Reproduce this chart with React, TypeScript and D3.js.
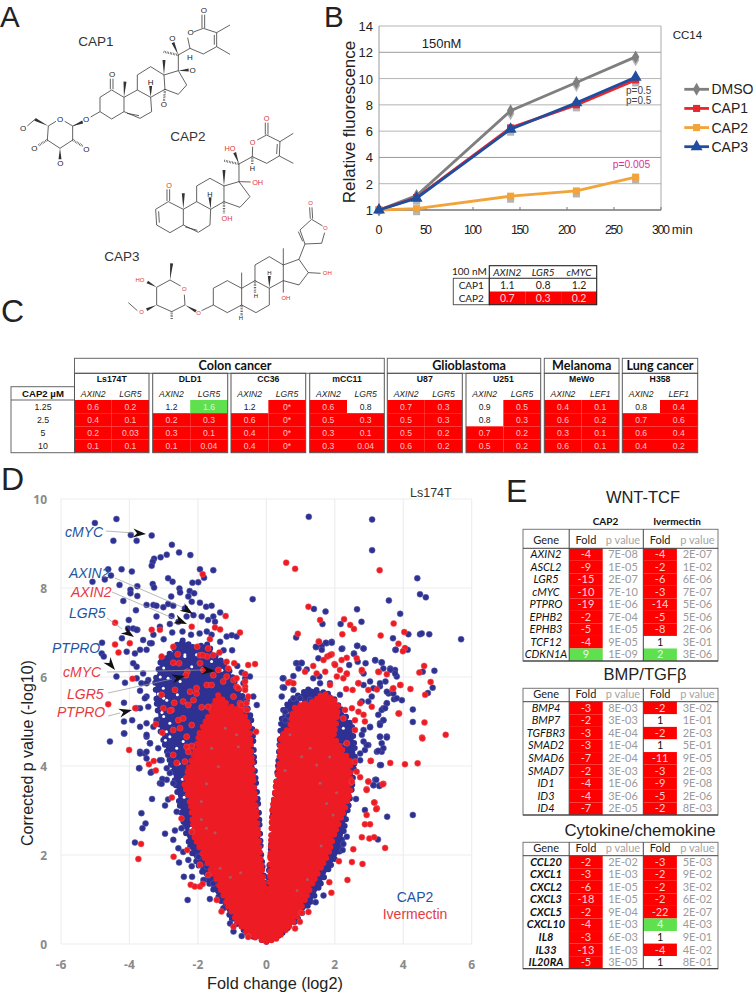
import * as d3 from "d3";
import React from "react";

type Pt = [number, number];

const SANS = "'Liberation Sans', Arial, sans-serif";
const CALIBRI = "Lato, 'Open Sans', sans-serif";
const RED = "#ff0000";
const GREEN = "#5fe04f";
const BLUE_DOT = "#2e3192";
const RED_DOT = "#ed1c24";
const LABEL_BLUE = "#1f55a0";
const LABEL_RED = "#e63a40";

// ---- panel A: skeleton formulas, drawn in a 3x grid ----
const cap1Bonds: Pt[][] = [
  [[300, 292], [335, 270], [372, 292], [372, 335], [335, 357], [300, 335], [300, 292]],
  [[372, 292], [412, 270], [452, 292], [455, 335], [420, 355], [372, 335]],
  [[412, 270], [412, 225], [452, 200], [492, 225], [495, 268], [452, 292]],
  [[492, 225], [535, 212], [560, 255], [535, 283], [495, 268]],
  [[381, 340], [417, 347]],
  [[331, 268], [331, 236]], [[339, 268], [339, 236]],
  [[535, 212], [535, 165], [570, 145], [563, 113]],
  [[581, 96], [610, 85], [650, 98], [650, 140], [610, 162], [570, 145]],
  [[606, 84], [606, 44]], [[614, 84], [614, 44]],
  [[650, 98], [690, 75]], [[650, 140], [690, 163]], [[643, 105], [643, 134]],
  [[300, 335], [272, 351]], [[248, 366], [218, 378]],
  [[218, 378], [194, 364]], [[168, 364], [145, 378], [142, 420], [180, 445], [218, 420], [218, 378]],
  [[105, 358], [82, 378]],
];
const cap1Wedges: [Pt, Pt][] = [
  [[372, 292], [375, 245]], [[492, 225], [492, 180]], [[535, 165], [519, 128]],
  [[535, 212], [566, 210]], [[452, 292], [452, 258]], [[218, 378], [248, 366]],
  [[145, 378], [105, 358]], [[180, 445], [180, 478]],
];
const cap1Hashes: [Pt, Pt][] = [
  [[535, 165], [490, 155]], [[495, 268], [492, 303]], [[142, 420], [114, 437]], [[218, 420], [248, 438]],
];
const cap1Atoms: [number, number, string][] = [
  [336, 224, "O"], [612, 32, "O"], [572, 98, "O"], [517, 117, "O"], [578, 211, "O"], [492, 315, "O"],
  [570, 174, "H"], [452, 248, "H"], [258, 358, "O"], [180, 358, "O"], [69, 387, "O"], [103, 447, "O"],
  [181, 490, "O"], [259, 448, "O"],
];

const cap2Bonds: Pt[][] = [
  [[467, 628], [505, 605], [550, 628], [550, 675], [510, 698], [470, 675], [467, 628]],
  [[476, 634], [478, 668]],
  [[550, 628], [590, 605], [632, 628], [630, 675], [595, 697], [550, 675]],
  [[556, 681], [592, 691]],
  [[590, 605], [590, 558], [630, 535], [672, 558], [672, 605], [632, 628]],
  [[672, 558], [717, 545], [750, 590], [720, 622], [672, 605]],
  [[501, 603], [501, 568]], [[509, 603], [509, 568]],
  [[717, 545], [752, 546]],
  [[717, 545], [717, 492], [757, 470], [758, 440]],
  [[772, 420], [800, 405], [840, 425], [838, 468], [800, 490], [757, 470]],
  [[796, 404], [796, 368]], [[804, 404], [804, 368]],
  [[840, 425], [880, 400]], [[838, 468], [880, 490]], [[832, 432], [830, 462]],
];
const cap2Wedges: [Pt, Pt][] = [
  [[550, 628], [550, 580]], [[672, 558], [672, 510]], [[632, 628], [630, 592]], [[717, 492], [704, 458]],
];
const cap2Hashes: [Pt, Pt][] = [
  [[672, 605], [672, 640]], [[717, 492], [672, 482]], [[757, 470], [757, 492]],
];
const cap2RedAtoms: [number, number, string][] = [
  [507, 557, "O"], [758, 427, "O"], [800, 355, "O"], [690, 445, "HO"], [773, 547, "OH"], [681, 656, "OH"],
];
const cap2Atoms: [number, number, string][] = [[630, 583, "H"], [757, 505, "H"]];

const cap3Bonds: Pt[][] = [
  [[470, 862], [510, 840], [542, 858]],
  [[553, 884], [555, 915], [515, 935], [470, 915], [470, 862]],
  [[605, 932], [640, 915]],
  [[640, 915], [640, 865], [682, 842], [725, 865], [725, 915], [682, 938], [640, 915]],
  [[725, 865], [765, 842], [808, 865], [808, 915], [768, 938], [725, 915]],
  [[765, 842], [765, 795], [808, 770], [850, 795], [850, 842], [808, 865]],
  [[850, 795], [897, 778], [925, 818], [897, 855], [850, 842]],
  [[725, 865], [725, 818]], [[850, 795], [850, 745]],
  [[897, 778], [915, 732]],
  [[915, 732], [900, 690], [935, 658], [968, 678]],
  [[974, 698], [965, 730], [915, 732]],
  [[908, 724], [895, 695]],
  [[931, 656], [929, 622]], [[938, 656], [936, 622]],
  [[925, 818], [962, 820]], [[850, 842], [850, 878]],
  [[412, 932], [385, 908]],
];
const cap3Wedges: [Pt, Pt][] = [
  [[510, 840], [515, 790]], [[470, 862], [442, 846]], [[470, 915], [440, 929]], [[555, 915], [588, 934]],
  [[808, 865], [808, 828]],
];
const cap3Hashes: [Pt, Pt][] = [[[765, 842], [765, 878]], [[725, 915], [725, 948]], [[515, 935], [515, 958]]];
const cap3RedAtoms: [number, number, string][] = [
  [553, 866, "O"], [596, 940, "O"], [425, 937, "O"], [420, 840, "HO"], [932, 609, "O"], [976, 684, "O"],
  [982, 820, "OH"], [858, 893, "OH"],
];
const cap3Atoms: [number, number, string][] = [[768, 889, "H"], [808, 820, "H"], [723, 955, "H"]];

// ---- panel B ----
const timeMinutes = [0, 40, 140, 210, 273];
const dmsoValues = [0, 1.1, 7.55, 9.7, 11.65];
const cap1Values = [0, 0.95, 6.25, 8.0, 9.9];
const cap2Values = [0, 0.1, 1.05, 1.45, 2.5];
const cap3Values = [0, 0.9, 6.15, 8.15, 10.1];
const fluorTicks = [0, 2, 4, 6, 8, 10, 12, 14];
const minuteTicks = [0, 50, 100, 150, 200, 250, 300];

const miniGenes = ["AXIN2", "LGR5", "cMYC"];
const miniCap1 = [1.1, 0.8, 1.2];
const miniCap2 = [0.7, 0.3, 0.2];

// ---- panel C ----
const doseLabels = ["1.25", "2.5", "5", "10"];
const cancerGroups = ["Colon cancer", "Glioblastoma", "Melanoma", "Lung cancer"];
const cellLines = ["Ls174T", "DLD1", "CC36", "mCC11", "U87", "U251", "MeWo", "H358"];
const cellCancer = [0, 0, 0, 0, 1, 1, 2, 3];
const secondGene = ["LGR5", "LGR5", "LGR5", "LGR5", "LGR5", "LGR5", "LEF1", "LEF1"];
const axin2Rows = [
  ["0.6", "0.4", "0.2", "0.1"],
  ["1.2", "0.2", "0.3", "0.1"],
  ["1.2", "0.6", "0.4", "0.4"],
  ["0.6", "0.5", "0.3", "0.3"],
  ["0.7", "0.5", "0.5", "0.6"],
  ["0.9", "0.8", "0.7", "0.5"],
  ["0.4", "0.6", "0.3", "0.6"],
  ["0.8", "0.7", "0.6", "0.4"],
];
const secondRows = [
  ["0.2", "0.1", "0.03", "0.1"],
  ["1.6", "0.3", "0.1", "0.04"],
  ["0*", "0*", "0*", "0*"],
  ["0.8", "0.3", "0.1", "0.04"],
  ["0.3", "0.3", "0.2", "0.2"],
  ["0.5", "0.3", "0.2", "0.2"],
  ["0.1", "0.2", "0.1", "0.1"],
  ["0.4", "0.6", "0.4", "0.2"],
];
const cellLeft = [74.5, 152.7, 231, 309.7, 387.3, 466, 544.3, 622.3];
const cellRight = [149, 227.7, 305.7, 384.3, 462.3, 540.7, 619, 697.7];

// ---- panel D: dense cloud outlines, then individually read dots ----
const redCloud: Pt[] = [
  [0, 0.05], [-0.5, 0.2], [-0.85, 0.5], [-1.15, 0.9], [-1.45, 1.44], [-1.85, 2], [-2.1, 2.4],
  [-2.2, 3.1], [-2.4, 3.6], [-2.25, 4.0], [-2.05, 4.4], [-1.95, 4.75], [-1.6, 5.25], [-1.42, 5.6], [-1.1, 5.35],
  [-0.7, 5.25], [-0.5, 4.9], [-0.42, 4.1], [-0.3, 3], [-0.18, 2], [-0.08, 1.4], [0, 1.05], [0.1, 1.4], [0.12, 2],
  [0.17, 3], [0.27, 3.5], [0.37, 4], [0.42, 4.66], [0.69, 4.88], [0.8, 5.3], [1.1, 5.4], [1.4, 5.45], [1.67, 5.65],
  [2.1, 5.4], [2.05, 5.0], [1.96, 4.66], [2.45, 4.1], [2.45, 3.4], [2.3, 3.05], [2.0, 2.5], [1.8, 2],
  [1.4, 1.44], [1.13, 1], [0.85, 0.55], [0.55, 0.3], [0.3, 0.12],
];
const blueCloud: Pt[] = [
  [0, 0.05], [-0.5, 0.2], [-1.0, 0.55], [-1.35, 1.0], [-1.75, 1.45], [-2.15, 2], [-2.35, 2.5], [-2.5, 3], [-2.65, 3.6],
  [-2.85, 4.2], [-3.1, 4.8], [-3.2, 5.4], [-3.25, 5.9], [-3.05, 6.45], [-2.75, 6.55], [-2.5, 6.85], [-2.1, 6.65],
  [-1.75, 6.75], [-1.45, 6.45], [-1.15, 6.25], [-0.9, 5.85], [-0.65, 5.5], [-0.45, 5.1], [-0.38, 4.6], [-0.35, 4], [-0.22, 3], [-0.15, 2], [0, 1.05],
  [0.12, 2], [0.2, 3], [0.34, 4], [0.42, 4.9], [0.5, 5.3], [0.85, 5.55], [1.3, 5.75], [1.9, 5.6], [2.25, 5.2], [2.5, 4.9],
  [2.6, 4.3], [2.5, 3.5], [2.35, 2.9], [2.15, 2.1], [1.75, 1.6], [1.35, 1.0], [0.9, 0.55], [0.4, 0.2],
];
// specks where the left blue lobe is not filled
const blueCloudGaps: Pt[] = [
  [-2.62, 6.85], [-2.38, 6.5], [-3.0, 6.2], [-3.01, 5.75], [-3.1, 6.0], [-2.87, 5.97], [-3.16, 5.62], [-3.0, 5.52],
  [-2.91, 5.48], [-3.0, 5.11], [-2.92, 4.77], [-2.82, 4.66], [-2.95, 4.58], [-2.38, 6.46], [-2.18, 6.23], [-2.52, 5.9],
  [-2.82, 4.96], [-2.43, 4.55], [-2.04, 6.5], [-1.6, 6.35], [-1.3, 6.15], [-2.7, 6.3], [-3.05, 5.2], [-2.6, 5.6],
  [-2.4, 3.3], [-2.45, 3.7], [-2.55, 4.05], [-2.62, 4.4], [-2.2, 2.6], [2.35, 3.6], [2.3, 4.5], [2.25, 4.85], [1.0, 5.45], [0.6, 5.2],
];
const blueDots: Pt[] = [
  [-5.01, 9.46], [-4.38, 9.55], [-4.47, 9.06], [-3.96, 9.19], [-3.79, 9.06], [-3.35, 9.18], [-2.76, 8.97],
  [-2.55, 8.8], [-2.22, 8.74], [-2.91, 8.75], [-3.09, 8.69], [-3.28, 8.66], [-3.32, 8.59], [-3.35, 8.5],
  [-1.94, 8.42], [-1.55, 8.4], [-1.82, 8.23], [-1.99, 8.13], [-2.16, 8.12], [-2.87, 8.22], [-2.74, 8.14],
  [-4.23, 8.42], [-3.93, 8.37], [-4.62, 8.42], [-4.72, 8.19], [-5.08, 8.14], [-4.54, 8.28], [-4.29, 8.07],
  [-3.97, 7.96], [-3.77, 8.04], [-3.97, 7.88], [-3.77, 7.82], [-4.18, 7.71], [-3.81, 7.5], [-3.32, 8.09],
  [-3.28, 8.01], [-2.54, 7.99], [-2.52, 7.9], [-2.24, 7.93], [-2.11, 7.88], [-2.28, 7.81], [-2.78, 7.81],
  [-0.4, 7.75], [-2.18, 7.69], [-1.94, 7.67], [-1.76, 7.58], [-1.6, 7.6], [-3.5, 7.62], [-3.3, 7.62],
  [-3.21, 7.6], [-3.01, 7.57], [-2.87, 7.64], [-2.72, 7.6], [-4.02, 7.28], [-4.04, 7.09], [-3.77, 7.06],
  [-4.8, 6.77], [-4.81, 6.53], [-4.75, 6.46], [-4.22, 6.87], [-4.08, 6.57], [-4.38, 6.01], [-4.13, 5.87],
  [-4.16, 5.42], [-4.16, 5.0], [-3.92, 5.03], [-4.16, 4.73], [-3.69, 5.3],
  [-3.21, 7.36], [-3.11, 7.13], [-2.77, 7.37], [-2.82, 7.19], [-2.57, 7.24], [-2.38, 7.54], [-2.33, 7.36],
  [-2.13, 7.39], [-1.89, 7.36], [-1.7, 7.28], [-1.55, 7.36], [-1.35, 7.45], [-1.5, 7.24], [-1.16, 6.91],
  [-1.01, 6.94], [-0.87, 6.91], [-1.35, 6.79], [-1.74, 7.02], [-3.5, 6.61], [-3.4, 6.76], [-3.6, 6.83],
  [-3.79, 6.23], [-3.6, 6.08], [-3.45, 5.93], [-3.69, 5.69], [-3.65, 5.86], [-3.5, 5.56], [-3.45, 5.33],
  [-3.21, 5.03], [-3.3, 4.88], [-0.67, 5.86], [-0.62, 5.97], [-0.48, 6.01], [-0.38, 5.56], [-0.28, 5.37], [-0.57, 5.48],
  [-3.89, 7.09], [-3.79, 7.06], [-3.35, 6.76], [-3.69, 6.61], [-3.84, 6.53], [-3.89, 6.31], [-3.79, 5.97], [-3.5, 5.86],
  [-3.55, 5.52], [-3.79, 5.3], [-3.69, 4.88], [-3.5, 4.96], [-3.5, 4.66], [-3.4, 4.51], [-3.69, 4.32], [-3.55, 4.28],
  [-3.5, 4.17], [-3.71, 3.95], [-3.35, 3.87], [-3.06, 4.13], [-2.87, 4.25], [-3.16, 4.4], [-3.11, 3.61], [-2.91, 3.69],
  [-2.72, 3.61], [-2.82, 3.84], [-3.3, 6.95], [-3.0, 6.85], [-2.75, 7.0], [-2.45, 7.02], [-2.2, 6.95], [-1.95, 6.98], [-1.6, 6.95],
  [-1.25, 6.6], [-1.0, 6.6], [-0.85, 6.25], [-0.72, 6.1],
  [1.24, 9.6], [3.09, 9.54], [3.09, 8.85], [4.41, 8.22], [4.49, 7.86], [4.66, 7.79], [3.58, 7.72], [1.39, 7.53],
  [1.73, 7.47], [2.65, 7.52], [3.91, 7.42], [2.78, 7.24], [1.64, 7.19], [2.17, 7.19], [3.7, 6.87], [4.15, 6.96],
  [4.49, 6.96], [4.54, 6.98], [4.76, 6.96], [5.69, 6.85], [3.77, 6.61], [4.13, 6.61], [0.87, 6.89], [1.91, 6.79],
  [1.76, 6.76], [1.62, 6.7], [1.45, 6.67], [2.22, 6.64], [2.65, 6.7], [2.84, 6.64], [2.56, 6.53], [1.52, 6.42],
  [4.91, 6.14], [4.57, 6.12], [4.86, 5.76], [4.72, 5.64], [3.96, 5.48], [4.28, 5.27], [4.28, 4.99], [3.32, 4.66],
  [3.52, 4.66], [3.18, 6.37], [3.37, 6.32], [3.62, 6.19], [3.76, 6.16], [3.81, 6.01], [3.48, 5.9], [3.32, 5.79],
  [3.13, 5.75], [3.57, 5.63], [3.73, 5.5], [3.52, 5.41], [3.42, 5.3], [3.42, 5.03], [3.32, 4.96], [3.03, 4.88],
  [1.03, 6.32], [0.87, 6.31], [0.5, 5.97], [0.48, 5.77],
  [1.45, 6.68], [1.62, 6.61], [1.91, 6.77], [1.74, 6.77], [2.66, 6.7], [2.84, 6.64], [3.78, 6.61], [0.89, 6.31], [1.03, 6.31],
  [1.18, 6.17], [0.94, 6.19], [0.79, 6.02], [0.48, 5.97], [0.79, 5.71], [0.52, 5.76], [0.45, 5.56], [1.37, 5.97], [1.55, 6.01],
  [1.86, 5.86], [2.2, 6.63], [2.42, 6.27], [2.56, 6.52], [2.67, 6.34], [2.9, 6.31], [3.18, 6.38], [3.37, 6.33], [2.84, 6.08],
  [3.03, 5.9], [3.42, 6.19], [3.62, 6.16], [3.76, 6.08], [3.32, 5.86], [3.52, 5.67], [3.71, 5.63], [3.81, 5.52], [3.52, 5.41],
  [3.08, 5.56], [2.98, 5.45], [2.79, 5.45], [3.37, 5.26], [3.47, 5.3], [3.27, 5.15], [3.42, 5.03], [3.32, 4.92], [3.03, 4.87],
  [2.84, 4.81], [2.79, 4.7], [3.32, 4.66], [3.52, 4.66], [3.37, 4.51], [3.23, 4.32], [3.37, 4.32], [2.98, 4.47], [2.88, 4.36],
  [2.74, 4.28], [3.32, 4.02], [3.18, 3.69], [3.13, 3.57], [3.32, 3.57], [2.74, 4.13], [2.84, 5.82], [2.15, 5.6], [0.79, 5.52],
  [0.98, 5.52], [1.28, 5.48], [1.57, 5.86], [0.55, 5.22], [0.64, 5.11], [0.55, 5.03], [0.45, 4.28], [0.5, 4.32],
  [-4.57, 4.55], [-4.15, 4.73], [-3.72, 3.95], [-3.38, 3.85], [-3.04, 3.71], [-3.06, 3.6], [-3.34, 3.26],
  [-2.87, 3.25], [-2.96, 3.11], [-3.65, 2.94], [-3.53, 2.71], [-3.62, 2.6], [-2.96, 2.48], [-2.72, 2.34],
  [-3.84, 2.28], [-2.67, 2.55], [-2.48, 2.6], [-2.62, 2.97], [-2.57, 2.15], [-2.43, 2.07], [-2.55, 1.83],
  [-2.28, 1.89], [-2.18, 1.75], [-2.41, 1.51], [-2.17, 1.51], [-2.3, 0.99], [-1.65, 1.01], [-1.06, 0.46],
  [-0.72, 0.18], [-0.96, 0.28], [-1.26, 0.8], [-1.55, 1.36], [-1.84, 1.44], [-1.99, 1.96], [-1.74, 1.74],
  [-3.69, 4.28], [-3.5, 4.32], [-3.5, 4.7], [-3.4, 4.51], [-3.11, 4.13], [-2.91, 3.95],
  [3.52, 4.64], [4.28, 2.9], [3.53, 2.86], [3.26, 2.35], [3.35, 4.02], [3.21, 3.69], [3.13, 3.57], [3.3, 3.55],
  [3.42, 4.4], [3.27, 4.34], [2.93, 4.47], [2.84, 4.55], [2.62, 3.26], [2.88, 3.01], [2.35, 2.41], [2.25, 2.25],
  [2.23, 2.11], [1.67, 1.09], [1.44, 0.94],
];
const redDots: Pt[] = [
  [-1.86, 8.31], [-4.42, 7.22], [-4.42, 6.73], [-3.99, 6.76], [-4.32, 6.55], [-3.91, 5.96], [-4.62, 5.39],
  [-3.83, 5.3], [-3.35, 7.06], [-3.11, 7.06], [-2.18, 7.13], [-1.19, 7.37], [-1.5, 7.11], [-1.35, 7.07],
  [-0.77, 7.0], [-1.65, 6.85], [-0.53, 6.27], [-0.33, 6.29], [-0.94, 6.31],
  [-2.72, 6.32], [-2.55, 6.31], [-2.31, 6.12], [-2.35, 6.04], [-1.94, 6.31], [-1.73, 6.46], [-1.55, 6.49],
  [-1.37, 6.55], [-1.16, 6.34], [-1.4, 6.16], [-1.55, 6.04], [-1.84, 6.16], [-2.02, 6.68], [-1.94, 6.49],
  [-2.67, 5.71], [-3.06, 5.6], [-3.01, 5.3], [-2.77, 5.26], [-2.57, 5.03], [-2.43, 5.07], [-2.04, 5.63],
  [-2.23, 5.67], [-2.72, 6.68], [-3.06, 6.46], [-1.16, 6.01], [-0.96, 5.93], [-0.87, 5.78], [-0.62, 6.07],
  [-0.62, 5.78], [-0.96, 5.56], [-0.77, 5.41], [-0.53, 5.56], [-0.57, 5.26], [-0.3, 4.77],
  [-2.59, 6.51], [-1.7, 6.64], [-1.86, 6.49], [-1.11, 6.19], [-2.69, 5.42], [-2.04, 5.75], [-1.74, 5.82], [-2.43, 5.45],
  [-2.28, 5.37], [-2.13, 5.48], [-2.82, 5.24], [-1.89, 5.32], [-1.7, 5.33], [-3.23, 4.94], [-3.04, 4.75], [-2.72, 4.81],
  [-2.52, 4.85], [-2.18, 4.92], [-2.33, 4.66], [-1.6, 5.82], [-1.26, 5.9], [-0.87, 5.97], [-0.82, 5.75], [-0.62, 5.9],
  [-0.62, 5.71], [-0.72, 5.37], [-0.58, 5.41], [-2.72, 4.25], [-2.38, 4.1], [-2.62, 4.07], [-3.23, 3.9], [-2.33, 4.43],
  [-2.18, 4.45], [-2.28, 4.32],
  [0.58, 8.57], [0.84, 8.43], [3.31, 8.4], [1.23, 7.58], [1.57, 7.28], [2.27, 7.3], [2.45, 7.17], [2.56, 7.08],
  [0.92, 6.97], [2.22, 6.96], [1.53, 6.8], [3.72, 7.2], [3.34, 6.93], [4.03, 7.01], [3.86, 6.75], [4.05, 6.65],
  [3.99, 6.58], [4.61, 6.25], [4.47, 6.1], [4.8, 5.89], [4.64, 5.6], [4.21, 5.73], [3.92, 5.82], [3.69, 5.73],
  [3.52, 6.06], [3.29, 6.11], [3.88, 5.18], [4.62, 4.98], [5.24, 4.7], [4.55, 4.64],
  [1.78, 6.46], [1.91, 6.51], [2.35, 6.43], [2.2, 6.38], [2.64, 6.42], [1.67, 6.38], [1.99, 6.29], [2.15, 6.16],
  [2.35, 6.07], [2.69, 5.86], [2.79, 6.13], [2.33, 5.73], [2.52, 5.71], [2.98, 5.71], [0.69, 5.89], [0.79, 5.86],
  [1.54, 6.79], [1.86, 6.49], [1.37, 6.25], [1.13, 6.12], [1.47, 6.08], [1.72, 6.12], [2.01, 6.27], [2.79, 6.16],
  [3.27, 6.12], [3.91, 5.82], [3.71, 5.75], [3.23, 5.72], [2.69, 5.86], [1.86, 5.82], [0.64, 5.87], [2.06, 6.01],
  [2.25, 5.97], [2.35, 6.08], [2.74, 5.41], [3.08, 5.33], [2.5, 5.3], [2.3, 5.26], [2.69, 5.22], [2.84, 5.15], [2.88, 5.0],
  [2.59, 5.03], [2.25, 5.07], [3.86, 5.18], [2.59, 4.81], [2.35, 4.51], [3.05, 4.12], [2.59, 4.1], [2.64, 3.87], [2.98, 3.65],
  [2.74, 3.75], [2.93, 3.48], [2.5, 3.65], [3.42, 3.6], [3.16, 3.18], [3.23, 3.05],
  [4.56, 4.62], [3.62, 4.07], [4.05, 4.04], [4.42, 4.06], [3.05, 4.11], [3.4, 3.59], [2.98, 3.65], [2.93, 3.46],
  [3.15, 3.18], [3.21, 3.03], [2.93, 2.9], [2.88, 2.69], [3.03, 2.69], [2.79, 2.4], [3.01, 2.37], [3.15, 2.4],
  [3.47, 2.16], [2.54, 2.13], [2.12, 1.86], [2.5, 1.84], [2.81, 1.8], [2.37, 1.44], [1.84, 1.39], [1.9, 1.15],
  [1.23, 0.72], [1.03, 0.7], [0.98, 0.5], [0.84, 0.35],
  [-4.01, 4.36], [-3.43, 4.04], [-3.29, 4.11], [-2.76, 3.29], [-3.66, 2.25], [-3.74, 1.91], [-2.71, 1.96],
  [-2.48, 2.82], [-2.21, 1.33], [-2.09, 1.29], [-1.94, 1.29], [-1.86, 1.35], [-1.94, 1.78], [-1.7, 1.55],
  [-1.45, 0.99], [-1.31, 0.73], [-0.96, 0.39], [-0.53, 0.16], [-2.31, 2.11], [-2.18, 2.52],
];
// greyish dots showing through the red core
const coreFlecks: Pt[] = [
  [-1.4, 3.99], [-0.82, 4.43], [-0.87, 4.7], [1.03, 4.21], [1.47, 4.02], [1.76, 3.16], [1.57, 3.61], [1.28, 4.4], [0.69, 4.7],
  [-1.9, 3.2], [-1.75, 3.6], [-1.6, 4.4], [-1.2, 4.85], [-1.9, 2.8], [-1.5, 2.5], [2.05, 3.4], [1.95, 2.9], [1.6, 2.2],
  [-1.75, 2.6], [-0.75, 1.6], [0.9, 1.2], [1.2, 1.45], [1.85, 4.2], [0.55, 3.9], [-1.35, 1.7], [-1.05, 1.5],
];
const volcanoX = [-6, -4, -2, 0, 2, 4, 6];
const volcanoY = [0, 2, 4, 6, 8, 10];

// label, colour, text x and baseline
const volcanoLabels: [string, string, number, number][] = [
  ["cMYC", LABEL_BLUE, 65, 537],
  ["AXIN2", LABEL_BLUE, 69, 578],
  ["AXIN2", LABEL_RED, 71, 597],
  ["LGR5", LABEL_BLUE, 69, 618],
  ["PTPRO", LABEL_BLUE, 52, 653],
  ["cMYC", LABEL_RED, 63, 677],
  ["LGR5", LABEL_RED, 67, 699],
  ["PTPRO", LABEL_RED, 57, 717],
];
// leader start, arrow tail, arrow tip (pixels of the annotation layer)
const leaders: [Pt, Pt, Pt][] = [
  [[106, 531], [134, 533], [146, 534]],
  [[115, 578], [182, 607], [193, 614]],
  [[112, 592], [175, 619], [187, 624]],
  [[107, 618], [122, 629], [134, 637]],
  [[107, 660], [107, 660], [115, 670]],
  [[107, 672], [203, 670], [215, 671]],
  [[108, 693], [172, 679], [185, 676]],
  [[108, 716], [120, 713], [132, 710]],
];

// ---- panel E ----
const wntGenes = ["AXIN2", "ASCL2", "LGR5", "cMYC", "PTPRO", "EPHB2", "EPHB3", "TCF12", "CDKN1A"];
const wntCap2Fold = [-4, -9, -15, -10, -19, -2, -5, -4, 9];
const wntCap2P = ["7E-08", "1E-05", "2E-07", "7E-10", "1E-06", "7E-04", "1E-05", "9E-05", "1E-09"];
const wntIverFold = [-4, -2, -6, -3, -14, -5, -8, 1, 2];
const wntIverP = ["2E-07", "1E-02", "6E-06", "7E-07", "5E-06", "5E-06", "2E-06", "3E-01", "3E-06"];

const bmpGenes = ["BMP4", "BMP7", "TGFBR3", "SMAD2", "SMAD6", "SMAD7", "ID1", "ID3", "ID4"];
const bmpCap2Fold = [-3, -2, -3, -3, -7, -2, -4, -4, -7];
const bmpCap2P = ["8E-03", "3E-03", "4E-04", "1E-04", "2E-04", "3E-03", "1E-06", "3E-06", "2E-05"];
const bmpIverFold = [-2, 1, -2, 1, -11, -3, -9, -5, -2];
const bmpIverP = ["3E-02", "1E-01", "2E-03", "5E-01", "9E-05", "2E-03", "9E-08", "2E-06", "8E-03"];

const cytoGenes = ["CCL20", "CXCL1", "CXCL2", "CXCL3", "CXCL5", "CXCL10", "IL8", "IL33", "IL20RA"];
const cytoCap2Fold = [-2, -3, -6, -18, -2, -4, -3, -13, -5];
const cytoCap2P = ["2E-02", "1E-03", "1E-05", "1E-05", "9E-04", "1E-03", "6E-03", "1E-03", "3E-05"];
const cytoIverFold = [-3, -2, -2, -2, -22, 4, 1, -4, 1];
const cytoIverP = ["5E-03", "9E-02", "3E-02", "6E-02", "2E-07", "4E-03", "9E-01", "4E-02", "8E-01"];

const foldColor = d3.scaleThreshold<number, string>().domain([0, 1.5]).range([RED, "#ffffff", GREEN]);
const ratioColor = d3.scaleThreshold<number, string>().domain([0.75, 1.5]).range([RED, "#ffffff", GREEN]);

const linePath = d3.line<Pt>();

function Molecule({bonds, wedges, hashes, atoms, redAtoms, fontSize}: {
  bonds: Pt[][]; wedges: [Pt, Pt][]; hashes: [Pt, Pt][];
  atoms: [number, number, string][]; redAtoms?: [number, number, string][]; fontSize: number;
}) {
  const ink = "#333";
  return (
    <g>
      {bonds.map((b, i) => (
        <path key={i} d={linePath(b) || ""} fill="none" stroke={ink} strokeWidth={2.3} strokeLinejoin="round" />
      ))}
      {wedges.map(([a, b], i) => {
        const dx = b[0] - a[0], dy = b[1] - a[1], len = Math.hypot(dx, dy);
        const nx = (-dy / len) * 4.5, ny = (dx / len) * 4.5;
        return <polygon key={i} points={`${a[0]},${a[1]} ${b[0] + nx},${b[1] + ny} ${b[0] - nx},${b[1] - ny}`} fill={ink} />;
      })}
      {hashes.map(([a, b], i) => (
        <line key={i} x1={a[0]} y1={a[1]} x2={b[0]} y2={b[1]} stroke={ink} strokeWidth={7} strokeDasharray="1.8 3" />
      ))}
      {atoms.map(([x, y, s], i) => (
        <text key={i} x={x} y={y} fontSize={fontSize} textAnchor="middle" dominantBaseline="central" fill="#222" fontFamily={SANS}>{s}</text>
      ))}
      {(redAtoms || []).map(([x, y, s], i) => (
        <text key={i} x={x} y={y} fontSize={fontSize} textAnchor="middle" dominantBaseline="central" fill="#e0333a" fontFamily={SANS}>{s}</text>
      ))}
    </g>
  );
}

function PanelA() {
  return (
    <g>
      <text x={0} y={26.5} fontSize={29.5} fontFamily={SANS} fill="#222">A</text>
      <g fontFamily={SANS} fontSize={13.5} fill="#333" textAnchor="middle">
        <text x={96} y={46}>CAP1</text>
        <text x={188} y={140.7}>CAP2</text>
        <text x={122} y={261}>CAP3</text>
      </g>
      <g transform="scale(0.3333)">
        <Molecule bonds={cap1Bonds} wedges={cap1Wedges} hashes={cap1Hashes} atoms={cap1Atoms} fontSize={24} />
        <Molecule bonds={cap2Bonds} wedges={cap2Wedges} hashes={cap2Hashes} atoms={cap2Atoms} redAtoms={cap2RedAtoms} fontSize={22} />
        <Molecule bonds={cap3Bonds} wedges={cap3Wedges} hashes={cap3Hashes} atoms={cap3Atoms} redAtoms={cap3RedAtoms} fontSize={18} />
      </g>
    </g>
  );
}

function Marker({kind, x, y, color}: {kind: string; x: number; y: number; color: string}) {
  const type = kind === "diamond" ? d3.symbolDiamond : kind === "square" ? d3.symbolSquare : d3.symbolTriangle;
  const size = kind === "diamond" ? 48 : kind === "square" ? 50 : 62;
  return <path d={d3.symbol().type(type).size(size)() || ""} transform={`translate(${x},${y})`} fill={color} />;
}

function PanelB() {
  const x = d3.scaleLinear().domain([0, 300]).range([379, 661]);
  const y = d3.scaleLinear().domain([0, 14]).range([210, 26]);
  const line = d3.line<number>().x((_, i) => x(timeMinutes[i])).y(v => y(v));
  const series = [
    {name: "DMSO", values: dmsoValues, color: "#7f7f7f", kind: "diamond"},
    {name: "CAP1", values: cap1Values, color: "#e8262d", kind: "square"},
    {name: "CAP2", values: cap2Values, color: "#f2a33a", kind: "square"},
    {name: "CAP3", values: cap3Values, color: "#1f4e9f", kind: "triangle"},
  ];
  const legendY = d3.scalePoint<string>().domain(series.map(s => s.name)).range([89.3, 146.7]);
  const miniX = d3.scalePoint<string>().domain(miniGenes).range([507.3, 579]);
  return (
    <g fontFamily={SANS}>
      <text x={324} y={26.5} fontSize={29.5} fill="#222">B</text>
      {fluorTicks.map(t => (
        <g key={t}>
          {t > 0 && <line x1={379} x2={661} y1={y(t)} y2={y(t)} stroke={t % 4 === 2 || t === 8 ? "#b5b5b5" : "#999"} strokeWidth={1} />}
          <text x={373} y={y(t) + 5} textAnchor="end" fontSize={13} fill="#222">{t === 0 ? "1" : t}</text>
        </g>
      ))}
      <line x1={379} x2={379} y1={26} y2={210} stroke="#999" />
      <line x1={661} x2={661} y1={26} y2={210} stroke="#aaa" />
      <line x1={379} x2={661} y1={210} y2={210} stroke="#777" strokeWidth={1.6} />
      {minuteTicks.map(t => (
        <g key={t}>
          <line x1={x(t)} x2={x(t)} y1={207} y2={210} stroke="#777" />
          <text x={x(t)} y={234} textAnchor="middle" fontSize={12.5} fill="#222" textLength={t === 0 ? undefined : t < 100 ? 12 : 18}>{t}</text>
        </g>
      ))}
      <text transform="translate(355,122) rotate(-90)" textAnchor="middle" fontSize={17} fill="#222">Relative fluorescence</text>
      <text x={421.7} y={47.5} fontSize={13} fill="#222">150nM</text>
      <text x={672.7} y={39.3} fontSize={11.5} fill="#222">CC14</text>
      <text x={671.7} y={234} fontSize={13} fill="#222">min</text>
      {series.map(s => (
        <g key={s.name}>
          {s.values.map((v, i) => i > 0 && (
            <Marker key={i} kind={s.kind === "triangle" ? "square" : s.kind} x={x(timeMinutes[i])} y={y(v) + 3} color="#b4b4b4" />
          ))}
        </g>
      ))}
      {series.map(s => (
        <g key={s.name}>
          <path d={line(s.values) || ""} fill="none" stroke={s.color} strokeWidth={2.8} />
          {s.values.map((v, i) => <Marker key={i} kind={s.kind} x={x(timeMinutes[i])} y={y(v)} color={s.color} />)}
          <line x1={684.3} x2={709} y1={legendY(s.name)} y2={legendY(s.name)} stroke={s.color} strokeWidth={2.8} />
          <Marker kind={s.kind} x={696.6} y={legendY(s.name)!} color={s.color} />
          <text x={711.5} y={legendY(s.name)! + 5} fontSize={14} fill="#222">{s.name}</text>
        </g>
      ))}
      <text x={626} y={94.3} fontSize={10} fill="#444">p=0.5</text>
      <text x={626} y={104} fontSize={10} fill="#444">p=0.5</text>
      <text x={612.7} y={167.7} fontSize={10.3} fill="#e0309a">p=0.005</text>
      <g fontFamily={CALIBRI} fontSize={10} fill="#222">
        <text x={486.7} y={275} textAnchor="end">100 nM</text>
        {miniGenes.map(g => <text key={g} x={miniX(g)} y={276} textAnchor="middle" fontStyle="italic">{g}</text>)}
        <rect x={453.3} y={278.3} width={36} height={26.4} fill="none" stroke="#555" />
        <text x={471.3} y={289} textAnchor="middle">CAP1</text>
        <text x={471.3} y={302} textAnchor="middle">CAP2</text>
        {miniGenes.map((g, i) => (
          <g key={g}>
            <rect x={miniX(g)! - 17.9} y={278.3} width={35.8} height={13.2} fill={ratioColor(miniCap1[i])} />
            <rect x={miniX(g)! - 17.9} y={291.5} width={35.8} height={13.2} fill={ratioColor(miniCap2[i])} />
            <text x={miniX(g)} y={289} textAnchor="middle" fontSize={10.5}>{miniCap1[i]}</text>
            <text x={miniX(g)} y={302} textAnchor="middle" fontSize={10.5} fill="#ffd5d5">{miniCap2[i]}</text>
          </g>
        ))}
        <rect x={489.3} y={265.7} width={107.4} height={39} fill="none" stroke="#222" strokeWidth={1.1} />
        <line x1={489.3} x2={596.7} y1={278.3} y2={278.3} stroke="#222" strokeWidth={1.1} />
      </g>
    </g>
  );
}

function PanelC() {
  const rowY = d3.scaleBand<string>().domain(doseLabels).range([400, 452.7]);
  const groupExtent = cancerGroups.map((_, g) => {
    const idx = cellCancer.map((c, i) => (c === g ? i : -1)).filter(i => i >= 0);
    return [cellLeft[idx[0]], cellRight[idx[idx.length - 1]]];
  });
  const groupCentre = [235, 469, 581.7, 660];
  const rowH = rowY.bandwidth();
  return (
    <g fontFamily={SANS}>
      <text x={1} y={322} fontSize={32} fill="#222">C</text>
      <rect x={11} y={386.7} width={63.5} height={66} fill="none" stroke="#666" strokeWidth={1} />
      <line x1={11} x2={74.5} y1={400} y2={400} stroke="#666" />
      <text x={43} y={396.5} textAnchor="middle" fontSize={9.6} fontWeight="bold" fill="#111">CAP2 µM</text>
      {doseLabels.map(d => (
        <text key={d} x={43} y={rowY(d)! + rowH - 3.5} textAnchor="middle" fontSize={8.8} fill="#222">{d}</text>
      ))}
      {cancerGroups.map((g, i) => (
        <g key={g}>
          <rect x={groupExtent[i][0]} y={358.3} width={groupExtent[i][1] - groupExtent[i][0]} height={15} fill="none" stroke="#666" />
          <text x={groupCentre[i]} y={370} textAnchor="middle" fontFamily={CALIBRI} fontWeight="bold" fontSize={12.6} fill="#111">{g}</text>
        </g>
      ))}
      {cellLines.map((name, i) => {
        const left = cellLeft[i], right = cellRight[i], mid = (left + right) / 2;
        const genes = d3.scaleBand<string>().domain(["AXIN2", secondGene[i]]).range([left, right]);
        const bw = genes.bandwidth();
        const cols = [axin2Rows[i], secondRows[i]];
        return (
          <g key={name}>
            <text x={mid} y={382} textAnchor="middle" fontSize={8.7} fontWeight="bold" fill="#111">{name}</text>
            {["AXIN2", secondGene[i]].map((g, c) => (
              <g key={g}>
                <text x={genes(g)! + bw / 2} y={397} textAnchor="middle" fontSize={8.6} fontStyle="italic" fill="#222">{g}</text>
                {doseLabels.map((d, r) => {
                  const v = cols[c][r];
                  const fill = ratioColor(parseFloat(v));
                  return (
                    <g key={d}>
                      <rect x={genes(g)} y={rowY(d)} width={bw} height={rowH} fill={fill} />
                      <text x={genes(g)! + bw / 2} y={rowY(d)! + rowH - 3.5} textAnchor="middle" fontSize={8.6}
                        fill={fill === "#ffffff" ? "#222" : fill === RED ? "#ffc4c4" : "#dff5da"}>{v}</text>
                    </g>
                  );
                })}
              </g>
            ))}
            <rect x={left} y={373.3} width={right - left} height={79.4} fill="none" stroke="#555" />
          </g>
        );
      })}
    </g>
  );
}

function PanelD() {
  const x = d3.scaleLinear().domain([-6, 6]).range([61, 471.7]);
  const y = d3.scaleLinear().domain([0, 10]).range([944, 499]);
  const cloud = d3.line<Pt>().x(d => x(d[0])).y(d => y(d[1])).curve(d3.curveLinearClosed);
  return (
    <g fontFamily={SANS}>
      <text x={1} y={490} fontSize={32} fill="#222">D</text>
      {volcanoX.map(t => <line key={t} x1={x(t)} x2={x(t)} y1={y(10)} y2={y(0)} stroke="#eeeeee" strokeWidth={1.2} />)}
      {volcanoY.map(t => <line key={t} x1={x(-6)} x2={x(6)} y1={y(t)} y2={y(t)} stroke="#eeeeee" strokeWidth={1.2} />)}
      {volcanoX.map(t => (
        <text key={t} x={x(t)} y={969} textAnchor="middle" fontSize={12} fontWeight="bold" fill="#8a8a8a" fontFamily="'Open Sans', sans-serif">{t}</text>
      ))}
      {volcanoY.map(t => (
        <text key={t} x={47} y={y(t) + 4.5} textAnchor="end" fontSize={12} fontWeight="bold" fill="#8a8a8a" fontFamily="'Open Sans', sans-serif">{t}</text>
      ))}
      <path d={cloud(blueCloud) || ""} fill={BLUE_DOT} stroke={BLUE_DOT} strokeWidth={6} strokeLinecap="round" strokeDasharray="0 5 0 9 0 7" />
      {blueCloudGaps.map((d, i) => <circle key={i} cx={x(d[0])} cy={y(d[1])} r={1.5} fill="#fff" />)}
      {blueDots.map((d, i) => <circle key={i} cx={x(d[0])} cy={y(d[1])} r={3} fill={BLUE_DOT} stroke="#5d60ad" strokeWidth={0.5} />)}
      <path d={cloud(redCloud) || ""} fill={RED_DOT} stroke={RED_DOT} strokeWidth={6} strokeLinecap="round" strokeDasharray="0 5 0 7 0 6" />
      {redDots.map((d, i) => <circle key={i} cx={x(d[0])} cy={y(d[1])} r={3} fill={RED_DOT} stroke="#f0555a" strokeWidth={0.5} />)}
      {coreFlecks.map((d, i) => <circle key={i} cx={x(d[0])} cy={y(d[1])} r={1.5} fill="#a85a66" />)}
      {leaders.map(([a, b, c], i) => {
        const dx = c[0] - b[0], dy = c[1] - b[1], len = Math.hypot(dx, dy) || 1;
        const ux = dx / len, uy = dy / len;
        const head = `M${c[0]},${c[1]}L${c[0] - 13 * ux + 4.5 * uy},${c[1] - 13 * uy - 4.5 * ux}L${c[0] - 9 * ux},${c[1] - 9 * uy}L${c[0] - 13 * ux - 4.5 * uy},${c[1] - 13 * uy + 4.5 * ux}Z`;
        return (
          <g key={i}>
            <line x1={a[0]} y1={a[1]} x2={b[0]} y2={b[1]} stroke="#999" strokeWidth={0.7} />
            <path d={head} fill="#111" />
          </g>
        );
      })}
      {volcanoLabels.map(([s, c, lx, ly], i) => (
        <text key={i} x={lx} y={ly} fontSize={14} fontStyle="italic" fill={c}>{s}</text>
      ))}
      <text x={410} y={497} fontSize={12.5} fill="#333">Ls174T</text>
      <text x={415} y={902} textAnchor="middle" fontSize={14} fill={LABEL_BLUE}>CAP2</text>
      <text x={415} y={919} textAnchor="middle" fontSize={14} fill={LABEL_RED}>Ivermectin</text>
      <text x={275} y={989} textAnchor="middle" fontSize={16.3} fill="#222">Fold change (log2)</text>
      <text transform="translate(33,753) rotate(-90)" textAnchor="middle" fontSize={16} fill="#222">Corrected p value (-log10)</text>
    </g>
  );
}

function GeneTable({title, titleX, titleY, titleSize, top, headerBottom, bottom, genes, fold1, p1, fold2, p2, bold, caps}: {
  title: React.ReactNode; titleX: number; titleY: number; titleSize: number; top: number; headerBottom: number; bottom: number;
  genes: string[]; fold1: number[]; p1: string[]; fold2: number[]; p2: string[]; bold?: boolean; caps?: boolean;
}) {
  const cols = [523, 569.2, 602.7, 643.3, 676.9, 718];
  const row = d3.scaleBand<string>().domain(genes).range([headerBottom, bottom]);
  const h = row.bandwidth();
  const foldCell = (vals: number[], col: number) => genes.map((g, i) => {
    const fill = foldColor(vals[i]);
    return (
      <g key={g}>
        <rect x={cols[col]} y={row(g)} width={cols[col + 1] - cols[col]} height={h} fill={fill} />
        <text x={(cols[col] + cols[col + 1]) / 2} y={row(g)! + h - 2.6} textAnchor="middle"
          fill={fill === "#ffffff" ? "#111" : fill === RED ? "#ffd0d0" : "#e6f9e2"}>{vals[i]}</text>
      </g>
    );
  });
  const pCell = (vals: string[], col: number) => genes.map((g, i) => (
    <text key={g} x={(cols[col] + cols[col + 1]) / 2} y={row(g)! + h - 2.6} textAnchor="middle" fill="#9a9a9a">{vals[i]}</text>
  ));
  return (
    <g fontFamily={CALIBRI} fontSize={11}>
      <text x={titleX} y={titleY} textAnchor="middle" fontFamily={SANS} fontSize={titleSize} fill="#222">{title}</text>
      {caps && (
        <g fontWeight="bold" fill="#111" fontSize={10}>
          <text x={605.5} y={525} textAnchor="middle">CAP2</text>
          <text x={677} y={525} textAnchor="middle">Ivermectin</text>
        </g>
      )}
      {foldCell(fold1, 1)}
      {foldCell(fold2, 3)}
      {pCell(p1, 2)}
      {pCell(p2, 4)}
      {genes.map(g => (
        <text key={g} x={546} y={row(g)! + h - 2.6} textAnchor="middle" fontStyle="italic" fontWeight={bold ? "bold" : "normal"} fill="#111">{g}</text>
      ))}
      {["Gene", "Fold", "p value", "Fold", "p value"].map((s, i) => (
        <text key={i} x={(cols[i] + cols[i + 1]) / 2} y={headerBottom - 4} textAnchor="middle" fill={i % 2 === 0 && i > 0 ? "#a5a5a5" : "#222"}>{s}</text>
      ))}
      <rect x={cols[0]} y={top} width={cols[5] - cols[0]} height={bottom - top} fill="none" stroke="#777" />
      <line x1={cols[0]} x2={cols[5]} y1={headerBottom} y2={headerBottom} stroke="#444" />
      <line x1={cols[0]} x2={cols[5]} y1={bottom} y2={bottom} stroke="#333" />
      <line x1={cols[1]} x2={cols[1]} y1={top} y2={bottom} stroke="#444" />
      <line x1={cols[3]} x2={cols[3]} y1={top} y2={bottom} stroke="#444" />
    </g>
  );
}

function PanelE() {
  return (
    <g>
      <text x={506} y={502} fontSize={32} fontFamily={SANS} fill="#222">E</text>
      <GeneTable title="WNT-TCF" titleX={643} titleY={502.7} titleSize={16.5} top={529.3} headerBottom={548.3} bottom={661}
        genes={wntGenes} fold1={wntCap2Fold} p1={wntCap2P} fold2={wntIverFold} p2={wntIverP} caps />
      <GeneTable title="BMP/TGFβ" titleX={645} titleY={680} titleSize={16.5} top={688.3} headerBottom={701.7} bottom={815}
        genes={bmpGenes} fold1={bmpCap2Fold} p1={bmpCap2P} fold2={bmpIverFold} p2={bmpIverP} />
      <GeneTable title="Cytokine/chemokine" titleX={640} titleY={835.7} titleSize={16.8} top={842.3} headerBottom={855.7} bottom={968.7}
        genes={cytoGenes} fold1={cytoCap2Fold} p1={cytoCap2P} fold2={cytoIverFold} p2={cytoIverP} bold />
    </g>
  );
}

export default function App() {
  return (
    <svg width={753} height={993} viewBox="0 0 753 993" style={{position: "absolute", left: 0, top: 0, background: "#fff"}}>
      <PanelA />
      <PanelB />
      <PanelC />
      <PanelD />
      <PanelE />
    </svg>
  );
}
